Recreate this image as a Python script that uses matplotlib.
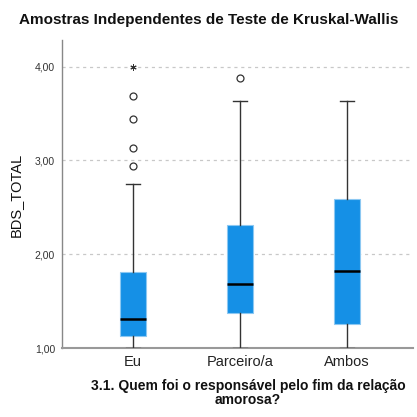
import matplotlib
matplotlib.use("Agg")
import matplotlib.pyplot as plt

categories = ["Eu", "Parceiro/a", "Ambos"]
whisk_low = [1.00, 1.00, 1.00]
q1 = [1.135, 1.38, 1.255]
median = [1.316, 1.69, 1.82]
q3 = [1.816, 2.316, 2.59]
whisk_high = [2.75, 3.63, 3.63]
outliers = [[2.94, 3.13, 3.44, 3.69], [3.875], []]
extremes = [[4.00], [], []]
yticks = [1.0, 2.0, 3.0, 4.0]
ytick_labels = ["1,00", "2,00", "3,00", "4,00"]

plt.rcParams['font.family'] = ['Liberation Sans', 'DejaVu Sans']

fig = plt.figure(figsize=(4.17, 4.17), dpi=100)
ax = fig.add_axes([62/417, 1 - 348.3/417, (413-62)/417, (348.3-40)/417])

stats = []
for i, c in enumerate(categories):
    stats.append(dict(label=c, whislo=whisk_low[i], q1=q1[i], med=median[i],
                      q3=q3[i], whishi=whisk_high[i], fliers=outliers[i]))

box_color = "#1590E6"
ax.bxp(stats, positions=range(len(categories)), widths=0.245, patch_artist=True,
       boxprops=dict(facecolor=box_color, edgecolor="#8CC8F2", linewidth=0.8),
       medianprops=dict(color="black", linewidth=1.8),
       whiskerprops=dict(color="#333333", linewidth=1.0),
       capprops=dict(color="#333333", linewidth=1.0),
       capwidths=0.13,
       flierprops=dict(marker="o", markerfacecolor="white", markeredgecolor="#333333",
                       markersize=5, markeredgewidth=0.9, linestyle="none"),
       zorder=3)

for i, ex in enumerate(extremes):
    if ex:
        ax.plot([i] * len(ex), ex, marker=(6, 2, 0), color="#333333", markersize=4.5,
                markeredgewidth=0.7, linestyle="none", zorder=4, clip_on=False)

ax.set_xlim(-0.665, 2.615)
ax.set_ylim(1.0, 4.283)
ax.set_yticks(yticks)
ax.set_yticklabels(ytick_labels, fontsize=7.5, color="#333333")
ax.set_xticks(range(len(categories)))
ax.set_xticklabels(categories, fontsize=10.5, color="#222222")
ax.tick_params(axis="x", length=0, pad=5)
ax.tick_params(axis="y", length=0, pad=5)

for y in yticks[1:]:
    ax.axhline(y, color="#C8C8C8", linewidth=0.9, linestyle=(0, (2.5, 3)), zorder=1)

for s in ["top", "right"]:
    ax.spines[s].set_visible(False)
ax.spines["left"].set_color("#888888")
ax.spines["bottom"].set_color("#999999")
ax.spines["bottom"].set_linewidth(1.5)
ax.spines["left"].set_linewidth(1.0)

ax.set_ylabel("BDS_TOTAL", fontsize=10.5, color="#111111")
ax.yaxis.set_label_coords(-0.111, 0.497)
ax.set_xlabel("3.1. Quem foi o responsável pelo fim da relação\namorosa?",
              fontsize=10, fontweight="bold", color="#111111", linespacing=1.05)
ax.xaxis.set_label_coords(0.53, -0.098)
fig.text(0.5, 1 - 20/417, "Amostras Independentes de Teste de Kruskal-Wallis",
         ha="center", va="center", fontsize=11, fontweight="bold", color="#111111")

fig.savefig("out.png", dpi=100, facecolor="white")
